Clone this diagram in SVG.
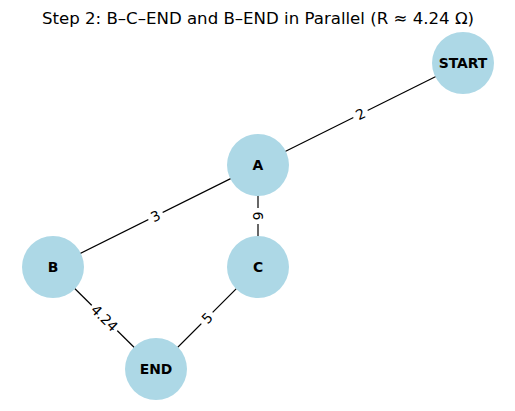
<svg xmlns="http://www.w3.org/2000/svg" width="515" height="411" viewBox="0 0 515 411">
<style>
.node circle{fill:#ADD8E6;stroke:none}
.node text{font-family:"DejaVu Sans",sans-serif;font-weight:bold;font-size:13.9px;text-anchor:middle;dominant-baseline:central;fill:#000}
.edges line{stroke:#000;stroke-width:1.2}
.elabel rect{fill:#fff}
.elabel text{font-family:"DejaVu Sans",sans-serif;font-size:13.9px;text-anchor:middle;dominant-baseline:central;fill:#000}
.title{font-family:"DejaVu Sans",sans-serif;font-size:16.6px;text-anchor:middle;fill:#000}
</style>
<rect width="515" height="411" fill="#fff"/>
<text class="title" x="258" y="24">Step 2: B–C–END and B–END in Parallel (R ≈ 4.24 Ω)</text>
<g class="edges">
<line x1="463" y1="63" x2="258" y2="165"/>
<line x1="258" y1="165" x2="53" y2="267"/>
<line x1="258" y1="165" x2="258" y2="267"/>
<line x1="53" y1="267" x2="156" y2="369"/>
<line x1="258" y1="267" x2="156" y2="369"/>
<g class="elabel" transform="translate(360.5,114) rotate(-26.5)"><rect x="-8" y="-9" width="16" height="18"/><text>2</text></g>
<g class="elabel" transform="translate(155.5,216) rotate(-26.5)"><rect x="-8" y="-9" width="16" height="18"/><text>3</text></g>
<g class="elabel" transform="translate(258,216) rotate(90)"><rect x="-8" y="-9" width="16" height="18"/><text>6</text></g>
<g class="elabel" transform="translate(104.5,318) rotate(44.7)"><rect x="-18" y="-9" width="36" height="18"/><text>4.24</text></g>
<g class="elabel" transform="translate(207,318) rotate(-45)"><rect x="-8" y="-9" width="16" height="18"/><text>5</text></g>
</g>
<g id="START" class="node"><circle cx="463" cy="63" r="31"/><text x="463" y="63">START</text></g>
<g id="A" class="node"><circle cx="258" cy="165" r="31"/><text x="258" y="165">A</text></g>
<g id="B" class="node"><circle cx="53" cy="267" r="31"/><text x="53" y="267">B</text></g>
<g id="C" class="node"><circle cx="258" cy="267" r="31"/><text x="258" y="267">C</text></g>
<g id="END" class="node"><circle cx="156" cy="369" r="31"/><text x="156" y="369">END</text></g>
</svg>
